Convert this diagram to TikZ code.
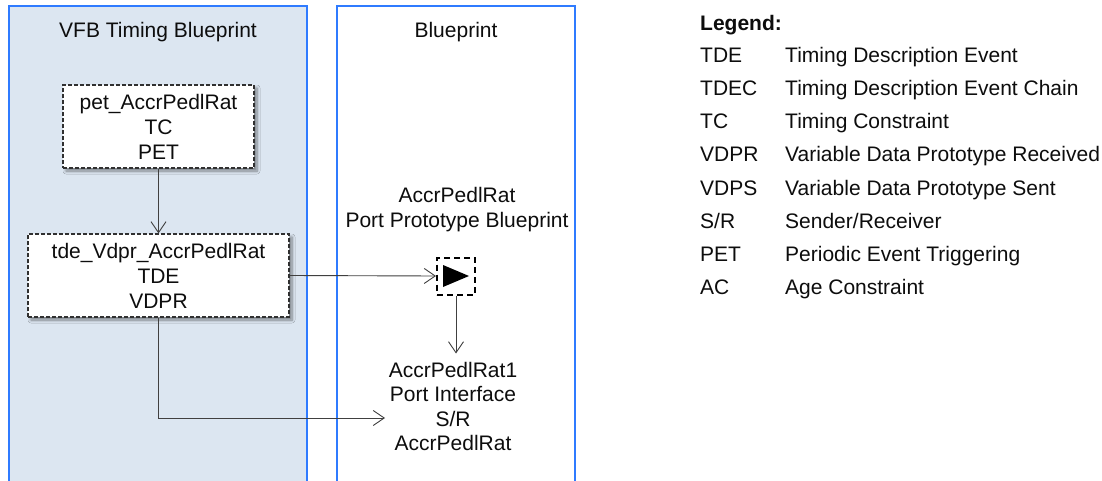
\documentclass[tikz,border=0pt]{standalone}
\usepackage{fontspec}
\setmainfont{Liberation Sans}
\usetikzlibrary{arrows.meta,shadows.blur}
\definecolor{panelfill}{HTML}{DCE6F1}
\definecolor{panelblue}{HTML}{2F7BFF}
\definecolor{txt}{HTML}{0D0D0D}
\definecolor{wire}{HTML}{404040}
\definecolor{dashc}{HTML}{303030}
\begin{document}
\begin{tikzpicture}[x=1pt,y=-1pt,
  every node/.style={text=txt,font=\fontsize{21}{25}\selectfont},
  panel/.style={draw=panelblue,line width=2pt},
  dbox/.style={draw=dashc,line width=1.1pt,dash pattern=on 4pt off 2pt,fill=white,align=center,inner sep=0pt,
    blur shadow={shadow xshift=3pt,shadow yshift=-3pt,shadow blur steps=6,shadow blur radius=3pt,shadow opacity=45}},
  conn/.style={draw=wire,line width=0.9pt,-{Straight Barb[length=11pt,width=15pt,line width=0.9pt]}},
  lgabbr/.style={anchor=base west,inner sep=0pt},
  lgdesc/.style={anchor=base west,inner sep=0pt}]
\useasboundingbox (0,0) rectangle (1102,481);
\clip (0,0) rectangle (1102,481);
\fill[white] (0,0) rectangle (1102,481);
% panels
\draw[panel,fill=panelfill] (9,6) rectangle (307,495);
\draw[panel,fill=white] (337,6) rectangle (575,495);
\node[anchor=base,inner sep=0pt] (t1) at (158,38) {VFB Timing Blueprint};
\node[anchor=base,inner sep=0pt] (t2) at (456,38) {Blueprint};
% dashed boxes
\node[dbox,minimum width=191pt,minimum height=83pt] (pet) at (158.5,126.5) {pet\_AccrPedlRat\\TC\\PET};
\node[dbox,minimum width=261pt,minimum height=83pt] (tde) at (158.5,275.5) {tde\_Vdpr\_AccrPedlRat\\TDE\\VDPR};
% port
\node[align=center,inner sep=0pt] (plabel) at (457,209.5) {AccrPedlRat\\Port Prototype Blueprint};
\node[draw=black,line width=2pt,dash pattern=on 6pt off 4pt,minimum width=38pt,minimum height=37pt,inner sep=0pt] (port) at (456,276) {};
\fill[black] (443,265) -- (469,276) -- (443,287) -- cycle;
\node[align=center,inner sep=0pt,font=\fontsize{21}{24.5}\selectfont] (iface) at (453,406.5) {AccrPedlRat1\\Port Interface\\S/R\\AccrPedlRat};
\coordinate (ifin) at (385,418);
% connectors
\draw[conn] (pet.south) -- (tde.north);
\draw[conn] (tde.east) -- (port.west);
\draw[conn] (port.south) -- ++(0,58);
\draw[conn] (tde.south) |- (ifin);
% legend
\node[lgabbr,font=\bfseries\fontsize{21}{25}\selectfont] (lg) at (700,31) {Legend:};
\foreach \y/\a/\d [count=\i] in {63/TDE/Timing Description Event,96/TDEC/Timing Description Event Chain,129/TC/Timing Constraint,162/VDPR/Variable Data Prototype Received,195/VDPS/Variable Data Prototype Sent,228/S{/}R/Sender{/}Receiver,261/PET/Periodic Event Triggering,294/AC/Age Constraint}{
  \node[lgabbr] (la\i) at (700,\y) {\a};
  \node[lgdesc] (ld\i) at (785,\y) {\d};
}
\end{tikzpicture}
\end{document}
